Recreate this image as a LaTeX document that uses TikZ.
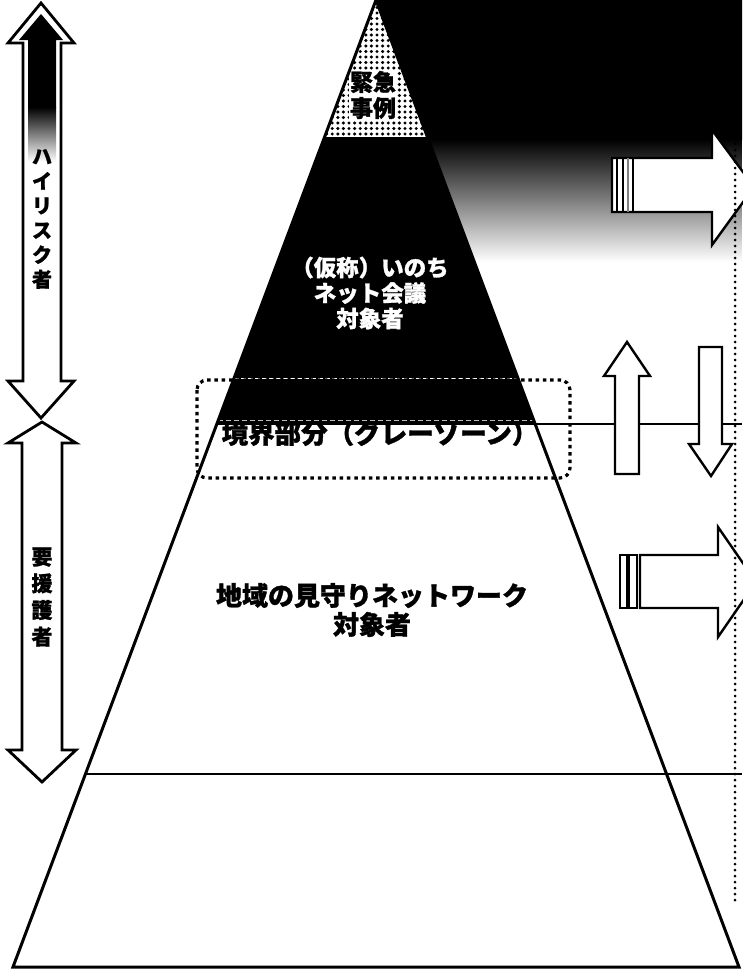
\documentclass[tikz,border=0pt]{standalone}
\usepackage{fontspec}
\newfontfamily\jp{Noto Sans CJK JP}[BoldFeatures={FakeBold=1.2}]
\begin{document}
\begin{tikzpicture}[x=1pt,y=-1pt,
  blockarrow/.style={draw=black, line width=2.4, fill=white, line join=miter},
  leftarrow/.style={draw=black, line width=2.8, fill=white, line join=miter},
  boldjp/.style={align=center, inner sep=0},
  sidejp/.style={font=\jp\bfseries\fontsize{20}{24.6}\selectfont, align=center, inner sep=0}]
\useasboundingbox (0,0) rectangle (742,969);
\fill[white] (0,0) rectangle (742,969);

% dark background to the upper right
\fill[black] (376,0) -- (742,0) -- (742,140) -- (428.6,140) -- cycle;
\shade[top color=black, middle color=black!70, bottom color=white]
  (428.2,139) -- (742,139) -- (742,262) -- (474.4,262) -- cycle;

% dotted apex
\begin{scope}
  \clip (376,0) -- (427.4,137) -- (324.6,137) -- cycle;
  \fill[white] (300,0) rectangle (450,137);
  \foreach \i in {0,...,21} {
    \foreach \j in {0,...,24} {
      \fill (321+\i*5.6, 2+\j*5.5) circle (1.7);
    }
  }
\end{scope}
\node[boldjp, fill=white, inner sep=1pt, font=\jp\bfseries\fontsize{23}{26}\selectfont] (kinkyu) at (373,95) {緊急\\事例};

% grey-zone text, partly covered by the black band
\node[boldjp, font=\jp\bfseries\fontsize{26.5}{30}\selectfont] (kyokai) at (380,433) {境界部分（グレーゾーン）};

% black band
\fill[black] (324.6,137) -- (427.4,137) -- (535.2,424) -- (216.8,424) -- cycle;
\draw[white, line width=0.8, dash pattern=on 5pt off 2pt] (234.4,378) -- (517.6,378);
\draw[white!75!black, line width=0.7, dash pattern=on 5pt off 3pt] (218.3,420) -- (533.7,420);
\node[boldjp, text=white, font=\jp\bfseries\fontsize{22.5}{25.5}\selectfont] (inochi) at (370,293) {（仮称）いのち\\ネット会議\\対象者};

% pyramid outline and levels
\coordinate (apex) at (376,0);
\coordinate (bl) at (13,967);
\coordinate (br) at (739,967);
\draw[line width=3, line join=miter] (apex) -- (br) -- (bl) -- cycle;
\coordinate (l424) at (216.8,424);
\coordinate (r424) at (742,424);
\coordinate (l774) at (85.4,774);
\coordinate (r774) at (742,774);
\draw[line width=2.8] (l424) -- (r424);
\draw[line width=2.4] (l774) -- (r774);

% grey zone box
\draw[line width=3.2, dash pattern=on 3.5pt off 3.8pt, rounded corners=10] (197,380) rectangle (570,478);

\node[boldjp, font=\jp\bfseries\fontsize{26}{29}\selectfont] (chiiki) at (372,610) {地域の見守りネットワーク\\対象者};

% right arrows
\draw[blockarrow] (612,158) -- (712,158) -- (712,130) -- (754,187) -- (712,245) -- (712,212) -- (612,212) -- cycle;
\draw[line width=1.4] (617,158) -- (617,212);
\draw[line width=1.4] (623,158) -- (623,212);
\draw[gray, line width=2.8] (628,158) -- (628,212);
\draw[line width=1.4] (633,158) -- (633,212);

\draw[blockarrow] (615,474) -- (615,376) -- (604,376) -- (627,342) -- (650,376) -- (639,376) -- (639,474) -- cycle;
\draw[blockarrow] (699,347) -- (722,347) -- (722,444) -- (732,444) -- (711,476) -- (689,444) -- (699,444) -- cycle;

\draw[blockarrow, line width=1.8] (620,555) rectangle (627,608);
\draw[blockarrow, line width=1.8] (629,555) rectangle (637,608);
\draw[blockarrow] (640,555) -- (718,555) -- (718,527) -- (756,582) -- (718,637) -- (718,608) -- (640,608) -- cycle;

% dotted vertical line
\coordinate (dtop) at (735,0);
\coordinate (dbot) at (735,902);
\draw[line width=3, line cap=round, dash pattern=on 0pt off 6pt] (dtop) -- (dbot);

% left double arrows
\draw[leftarrow] (41,3) -- (74,43) -- (61,43) -- (61,381) -- (74,381) -- (41,418) -- (8,381) -- (23,381) -- (23,43) -- (8,43) -- cycle;
\begin{scope}
  \clip (41,14) -- (63,40) -- (56,40) -- (56,170) -- (28,170) -- (28,40) -- (19,40) -- cycle;
  \fill[black] (0,0) rectangle (80,108);
  \shade[top color=black, bottom color=white] (0,107) rectangle (80,162);
\end{scope}
\node[sidejp] (hirisk) at (42,219) {ハ\\イ\\リ\\ス\\ク\\者};

\draw[leftarrow] (42,422) -- (76,443) -- (62,443) -- (62,750) -- (76,750) -- (42,782) -- (8,750) -- (22,750) -- (22,443) -- (8,443) -- cycle;
\node[sidejp, font=\jp\bfseries\fontsize{21}{26.7}\selectfont] (yoengo) at (42,597) {要\\援\\護\\者};
\end{tikzpicture}
\end{document}
